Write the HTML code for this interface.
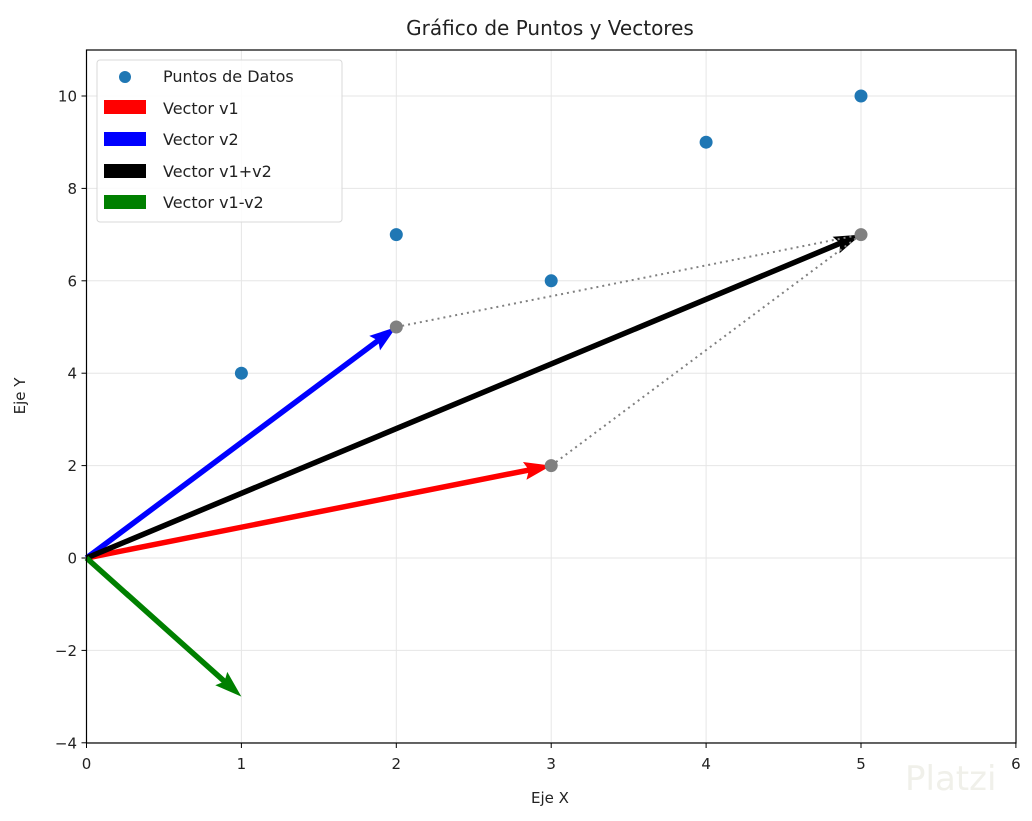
<!DOCTYPE html>
<html><head><meta charset="utf-8"><style>
body{margin:0;background:#fff}
svg text{font-family:"DejaVu Sans","Liberation Sans",sans-serif;fill:#222}
</style></head><body>
<svg id="s" width="1032" height="816" xmlns="http://www.w3.org/2000/svg">
<rect width="1032" height="816" fill="#fff"/>
<g id="grid" stroke="#e6e6e6" stroke-width="1"></g>
<g id="pts"></g>
<g id="vec"></g>
<g id="axes"></g>
<text x="550" y="35" font-size="20" text-anchor="middle">Gráfico de Puntos y Vectores</text>
<text x="550" y="803" font-size="15" text-anchor="middle">Eje X</text>
<text x="0" y="0" font-size="15" text-anchor="middle" transform="translate(25,396) rotate(-90)">Eje Y</text>
<g id="leg">
<rect x="97" y="60" width="245" height="162" rx="3" fill="#fff" fill-opacity="0.85" stroke="#d8d8d8"/>
<circle cx="125" cy="77" r="6" fill="#1f77b4"/>
<text x="163" y="82" font-size="16">Puntos de Datos</text>
<rect x="104" y="100" width="42" height="14" fill="red"/>
<text x="163" y="114" font-size="16">Vector v1</text>
<rect x="104" y="132" width="42" height="14" fill="blue"/>
<text x="163" y="145" font-size="16">Vector v2</text>
<rect x="104" y="164" width="42" height="14" fill="#000"/>
<text x="163" y="177" font-size="16">Vector v1+v2</text>
<rect x="104" y="195" width="42" height="14" fill="green"/>
<text x="163" y="208" font-size="16">Vector v1-v2</text>
</g>
<text x="905" y="790" font-size="34" style="fill:#f0f0ea">Platzi</text>
</svg>
<script>
const NS="http://www.w3.org/2000/svg";
const X=x=>86.5+154.9*x, Y=y=>558-46.2*y;
function el(p,t,a){const e=document.createElementNS(NS,t);for(const k in a)e.setAttribute(k,a[k]);document.getElementById(p).appendChild(e);return e;}
for(let i=0;i<=6;i++)el('grid','line',{x1:X(i),x2:X(i),y1:50,y2:743});
for(let j=-4;j<=10;j+=2)el('grid','line',{x1:86.5,x2:1016,y1:Y(j),y2:Y(j)});
[[1,4],[2,7],[3,6],[4,9],[5,10]].forEach(p=>el('pts','circle',{cx:X(p[0]),cy:Y(p[1]),r:6.5,fill:'#1f77b4'}));
function arrow(x,y,c){const x0=X(0),y0=Y(0),x1=X(x),y1=Y(y);const dx=x1-x0,dy=y1-y0,L=Math.hypot(dx,dy);const ux=dx/L,uy=dy/L,nx=-uy,ny=ux;const w=5.5,hl=27,hw=9,ha=24;
const bx=x1-ux*hl,by=y1-uy*hl,nxp=x1-ux*ha,nyp=y1-uy*ha;
const pts=[[x0+nx*w/2,y0+ny*w/2],[nxp+nx*w/2,nyp+ny*w/2],[bx+nx*hw,by+ny*hw],[x1,y1],[bx-nx*hw,by-ny*hw],[nxp-nx*w/2,nyp-ny*w/2],[x0-nx*w/2,y0-ny*w/2]];
el('vec','polygon',{points:pts.map(p=>p.join(',')).join(' '),fill:c});}
arrow(3,2,'red');arrow(2,5,'blue');arrow(5,7,'#000');arrow(1,-3,'green');
el('vec','line',{x1:X(2),y1:Y(5),x2:X(5),y2:Y(7),stroke:'#808080','stroke-width':2,'stroke-dasharray':'2,4'});
el('vec','line',{x1:X(3),y1:Y(2),x2:X(5),y2:Y(7),stroke:'#808080','stroke-width':2,'stroke-dasharray':'2,4'});
[[2,5],[3,2],[5,7]].forEach(p=>el('vec','circle',{cx:X(p[0]),cy:Y(p[1]),r:6.5,fill:'#808080'}));
el('axes','rect',{x:86.5,y:50,width:929.5,height:693,fill:'none',stroke:'#000','stroke-width':1.2});
for(let i=0;i<=6;i++){el('axes','line',{x1:X(i),x2:X(i),y1:743,y2:748,stroke:'#000'});const t=el('axes','text',{x:X(i),y:769,'font-size':15,'text-anchor':'middle'});t.textContent=i;}
for(let j=-4;j<=10;j+=2){el('axes','line',{x1:81.5,x2:86.5,y1:Y(j),y2:Y(j),stroke:'#000'});const t=el('axes','text',{x:77,y:Y(j)+5.5,'font-size':15,'text-anchor':'end'});t.textContent=j<0?'\u2212'+(-j):j;}
</script>
</body></html>
